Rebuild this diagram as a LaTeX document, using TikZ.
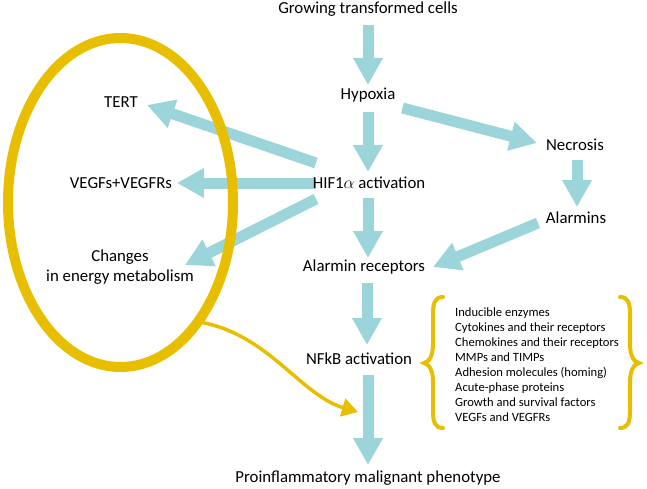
\documentclass[tikz,border=0pt]{standalone}
\usepackage{fontspec}
\setmainfont{Carlito}
\usetikzlibrary{arrows.meta,calc,shapes.geometric,backgrounds}
\definecolor{teal}{RGB}{155,213,217}
\definecolor{gold}{RGB}{232,190,0}
\tikzset{
  lbl/.style={inner sep=0pt, font=\fontsize{16.8}{20}\selectfont},
  small/.style={inner sep=0pt, font=\fontsize{12.6}{15}\selectfont, align=left, anchor=west},
  fat/.style={draw=teal, line width=11pt, -{Triangle[length=27pt,width=28pt]}},
  goldline/.style={draw=gold, line width=3.5pt},
  goldarrow/.style={goldline, -{Triangle[length=16pt,width=18pt]}},
  bracestroke/.style={goldline, line width=4pt, line cap=round},
}
\begin{document}
\begin{tikzpicture}[x=1pt,y=-1pt]
\useasboundingbox (0,0) rectangle (647,489);
% nodes
\node[lbl] (grow) at (368,9) {Growing transformed cells};
\node[lbl] (hyp) at (368,95) {Hypoxia};
\node[lbl] (hif) at (369,183) {HIF1$\alpha$ activation};
\node[lbl] (alrec) at (364,267) {Alarmin receptors};
\node[lbl] (nfkb) at (359,359) {NFkB activation};
\node[lbl] (pheno) at (368,478) {Proinflammatory malignant phenotype};
\node[lbl] (nec) at (575,145) {Necrosis};
\node[lbl] (alm) at (576,218) {Alarmins};
\node[lbl] (tert) at (121,102) {TERT};
\node[lbl] (vegf) at (121,183) {VEGFs+VEGFRs};
\node[lbl, align=center] (energy) at (120,267) {Changes\\in energy metabolism};
\node[small] (list) at (455,364.5) {Inducible enzymes\\Cytokines and their receptors\\Chemokines and their receptors\\MMPs and TIMPs\\Adhesion molecules (homing)\\Acute-phase proteins\\Growth and survival factors\\VEGFs and VEGFRs};
% group ellipse
\node[ellipse, draw=gold, line width=10pt, minimum width=225pt, minimum height=329pt, inner sep=0pt, outer sep=0pt] (grp) at (120.5,202.5) {};
% teal arrows
\begin{scope}[on background layer]
\draw[fat] ($(grow)+(0,16)$) -- ($(hyp)+(0,-10)$);
\draw[fat] ($(hyp)+(0,17)$) -- ($(hyp)+(0,77)$);
\draw[fat] ($(hif)+(-1,15)$) -- ($(alrec)+(4,-9)$);
\draw[fat] ($(alrec)+(3,16)$) -- ($(nfkb)+(8,-14)$);
\draw[fat] ($(nfkb)+(9,16)$) -- ($(pheno)+(0,-13)$);
\draw[fat] ($(hyp)+(34.5,13)$) -- ($(nec)+(-38,-2)$);
\draw[fat] ($(nec)+(2,15)$) -- ($(alm)+(1,-11)$);
\draw[fat] ($(alm)+(-38,5)$) -- ($(alrec)+(69,0)$);
\draw[fat] ($(hif)+(-53,-20)$) -- ($(tert)+(26,3)$);
\draw[fat] ($(hif)+(-53,0)$) -- ($(vegf)+(56,0)$);
\draw[fat] ($(hif)+(-53,16)$) -- ($(energy)+(65,-2)$);
\end{scope}
% gold connector
\coordinate (gend) at (358,412);
\draw[goldarrow] (grp.-57.6) .. controls (268,333) and (300,395) .. (gend);
% braces
\draw[bracestroke]
  (443,297) .. controls (435,297) and (433,303) .. (433,314) -- (433,344)
  .. controls (433,356) and (429,362) .. (424,363)
  .. controls (429,364) and (433,370) .. (433,382) -- (433,411)
  .. controls (433,422) and (435,428) .. (443,428);
\draw[bracestroke]
  (620,297) .. controls (628,297) and (630,303) .. (630,314) -- (630,344)
  .. controls (630,356) and (634,362) .. (639,363)
  .. controls (634,364) and (630,370) .. (630,382) -- (630,411)
  .. controls (630,422) and (628,428) .. (620,428);
\end{tikzpicture}
\end{document}
